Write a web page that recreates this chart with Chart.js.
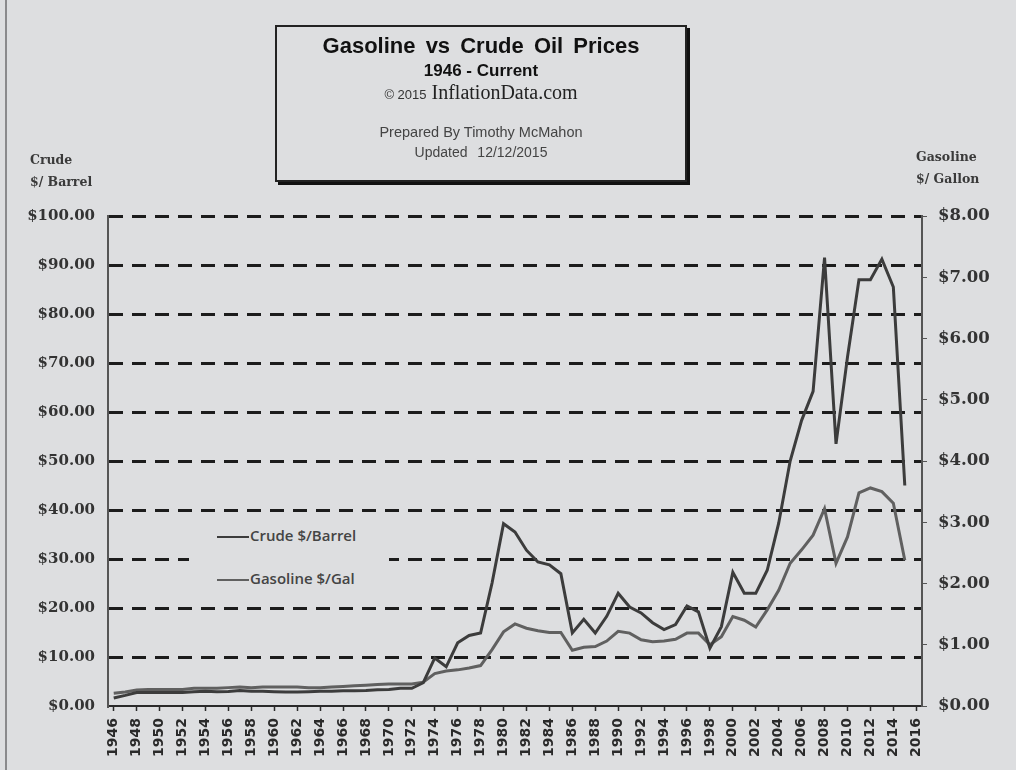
<!DOCTYPE html>
<html lang="en">
<head>
    <meta charset="UTF-8">
    <title>Gasoline vs Crude Oil Prices</title>
    <script src="https://cdn.jsdelivr.net/npm/chart.js"></script>
    <style>
        body {
            margin: 0;
            padding: 0;
            background-color: #dddee0;
            font-family: "Liberation Sans", Arial, sans-serif;
        }
        .wrap {
            position: relative;
            width: 1016px;
            height: 770px;
            overflow: hidden;
        }
        #priceChart {
            position: absolute;
            left: 0;
            top: 0;
        }
        .frame-left {
            position: absolute;
            left: 5px;
            top: 0;
            width: 2px;
            height: 770px;
            background: #8a8a8c;
        }
        .title-box {
            position: absolute;
            left: 275px;
            top: 25px;
            width: 408px;
            height: 153px;
            border: 2px solid #222;
            box-shadow: 3px 3px 0 #111;
            text-align: center;
            color: #111;
        }
        .title-box div {
            position: absolute;
            left: 0;
            width: 100%;
            white-space: nowrap;
        }
        .t1 { top: 6px; font-size: 22px; font-weight: bold; word-spacing: 4px; }
        .t2 { top: 34px; font-size: 17px; font-weight: bold; }
        .t3 { top: 54px; font-size: 20px; font-family: "Liberation Serif", "Times New Roman", serif; color: #222; }
        .t3 small { font-family: "Liberation Sans", Arial, sans-serif; font-size: 13px; color: #333; }
        .t4 { top: 97px; font-size: 14.5px; color: #444; }
        .t5 { top: 117px; font-size: 14px; color: #444; word-spacing: 6px; }
        .axis-head {
            position: absolute;
            font-family: "DejaVu Serif", serif;
            font-weight: bold;
            font-size: 12.5px;
            color: #3a3a3a;
            line-height: 22px;
        }
        .legend {
            position: absolute;
            left: 189px;
            top: 520px;
            width: 200px;
            height: 80px;
            background: #dddee0;
            font-family: "Open Sans", sans-serif;
            font-weight: 600;
            font-size: 15px;
            color: #444;
        }
        .legend .item {
            position: absolute;
            left: 28px;
            height: 20px;
            line-height: 20px;
            white-space: nowrap;
        }
        .legend .swatch {
            display: inline-block;
            width: 32px;
            height: 2px;
            vertical-align: middle;
            margin-right: 1px;
        }
    </style>
</head>
<body>
<div class="wrap">
    <canvas id="priceChart" width="1016" height="770"></canvas>
    <div class="frame-left"></div>

    <div class="title-box">
        <div class="t1">Gasoline vs Crude Oil Prices</div>
        <div class="t2">1946 - Current</div>
        <div class="t3"><small>© 2015</small> InflationData.com</div>
        <div class="t4">Prepared By Timothy McMahon</div>
        <div class="t5">Updated 12/12/2015</div>
    </div>

    <div class="axis-head" style="left:30px; top:149px;">Crude<br>$/ Barrel</div>
    <div class="axis-head" style="left:916px; top:146px;">Gasoline<br>$/ Gallon</div>

    <div class="legend">
        <div class="item" style="top:5px;"><span class="swatch" style="background:#3c3c3c;"></span>Crude $/Barrel</div>
        <div class="item" style="top:48px;"><span class="swatch" style="background:#606060;"></span>Gasoline $/Gal</div>
    </div>
</div>

<script>
    // years 1946 - 2016 (the last slot has no data)
    const years = [];
    for (let y = 1946; y <= 2016; y++) years.push(String(y));

    // crude oil, $ per barrel (left axis), 1946 - 2015
    const crudePrices = [
        1.63, 2.16, 2.77, 2.77, 2.77, 2.77, 2.77, 2.92, 2.99, 2.93,
        2.94, 3.14, 3.00, 3.00, 2.91, 2.85, 2.85, 2.91, 3.00, 3.01,
        3.10, 3.12, 3.18, 3.32, 3.39, 3.60, 3.60, 4.75, 9.8, 8.0,
        12.9, 14.4, 14.9, 25.1, 37.2, 35.5, 31.8, 29.4, 28.8, 27.0,
        14.9, 17.7, 14.9, 18.3, 23.0, 20.2, 19.0, 17.0, 15.6, 16.6,
        20.4, 19.2, 11.8, 16.2, 27.3, 23.0, 23.0, 27.7, 37.3, 50.0,
        58.3, 64.2, 91.5, 53.5, 71.2, 87.0, 87.0, 91.2, 85.5, 45.0,
        null
    ];

    // gasoline, $ per gallon (right axis), 1946 - 2015
    const gasPrices = [
        0.21, 0.23, 0.26, 0.27, 0.27, 0.27, 0.27, 0.29, 0.29, 0.29,
        0.30, 0.31, 0.30, 0.31, 0.31, 0.31, 0.31, 0.30, 0.30, 0.31,
        0.32, 0.33, 0.34, 0.35, 0.36, 0.36, 0.36, 0.39, 0.53, 0.57,
        0.59, 0.62, 0.66, 0.92, 1.21, 1.34, 1.27, 1.23, 1.20, 1.20,
        0.91, 0.96, 0.97, 1.06, 1.22, 1.19, 1.08, 1.05, 1.06, 1.09,
        1.19, 1.19, 1.00, 1.13, 1.46, 1.40, 1.29, 1.57, 1.89, 2.33,
        2.55, 2.79, 3.22, 2.33, 2.76, 3.48, 3.56, 3.50, 3.31, 2.38,
        null
    ];

    const crudeTicks = [0, 10, 20, 30, 40, 50, 60, 70, 80, 90, 100];
    const gasTicks = [0, 1, 2, 3, 4, 5, 6, 7, 8];

    const ctx = document.getElementById('priceChart').getContext('2d');

    new Chart(ctx, {
        type: 'line',
        data: {
            labels: years,
            datasets: [
                {
                    label: 'Crude $/Barrel',
                    data: crudePrices,
                    yAxisID: 'y',
                    borderColor: '#3c3c3c',
                    borderWidth: 3,
                    pointRadius: 0,
                    tension: 0
                },
                {
                    label: 'Gasoline $/Gal',
                    data: gasPrices,
                    yAxisID: 'y2',
                    borderColor: '#606060',
                    borderWidth: 3,
                    pointRadius: 0,
                    tension: 0
                }
            ]
        },
        options: {
            responsive: false,
            animation: false,
            layout: { padding: { top: 216, left: 0, right: 0, bottom: 0 } },
            plugins: {
                legend: { display: false },
                tooltip: { enabled: false }
            },
            scales: {
                x: {
                    type: 'category',
                    offset: true,
                    afterFit: (s) => { s.height = 64; },
                    border: { display: true, color: '#2a2a2a', width: 2 },
                    grid: {
                        drawOnChartArea: false,
                        drawTicks: true,
                        tickLength: 5,
                        tickWidth: 1.5,
                        tickColor: (c) => (c.index % 2 === 0 ? '#2a2a2a' : 'rgba(0,0,0,0)')
                    },
                    ticks: {
                        autoSkip: false,
                        minRotation: 90,
                        maxRotation: 90,
                        padding: 7,
                        color: '#2a2a2a',
                        font: { family: 'DejaVu Sans', weight: 'bold', size: 14 },
                        callback: function (v, i) { return i % 2 === 0 ? this.getLabelForValue(v) : ''; }
                    }
                },
                y: {
                    position: 'left',
                    min: 0,
                    max: 100,
                    afterFit: (s) => { s.width = 108; },
                    afterBuildTicks: (s) => { s.ticks = crudeTicks.map(v => ({ value: v })); },
                    border: { display: true, color: '#555', width: 2, dash: [14, 9] },
                    grid: {
                        color: (c) => (c.tick && c.tick.value === 0 ? 'rgba(0,0,0,0)' : '#1c1c1c'),
                        lineWidth: 3,
                        drawTicks: false
                    },
                    ticks: {
                        padding: 13,
                        color: '#333',
                        font: { family: 'DejaVu Serif', weight: 'bold', size: 15 },
                        callback: (v) => '$' + Number(v).toFixed(2)
                    }
                },
                y2: {
                    position: 'right',
                    min: 0,
                    max: 8,
                    afterFit: (s) => { s.width = 94; },
                    afterBuildTicks: (s) => { s.ticks = gasTicks.map(v => ({ value: v })); },
                    border: { display: true, color: '#555', width: 2 },
                    grid: {
                        drawOnChartArea: false,
                        drawTicks: true,
                        tickLength: 5,
                        tickColor: '#555'
                    },
                    ticks: {
                        padding: 11,
                        color: '#333',
                        font: { family: 'DejaVu Serif', weight: 'bold', size: 16.5 },
                        callback: (v) => '$' + Number(v).toFixed(2)
                    }
                }
            }
        }
    });
</script>
</body>
</html>
